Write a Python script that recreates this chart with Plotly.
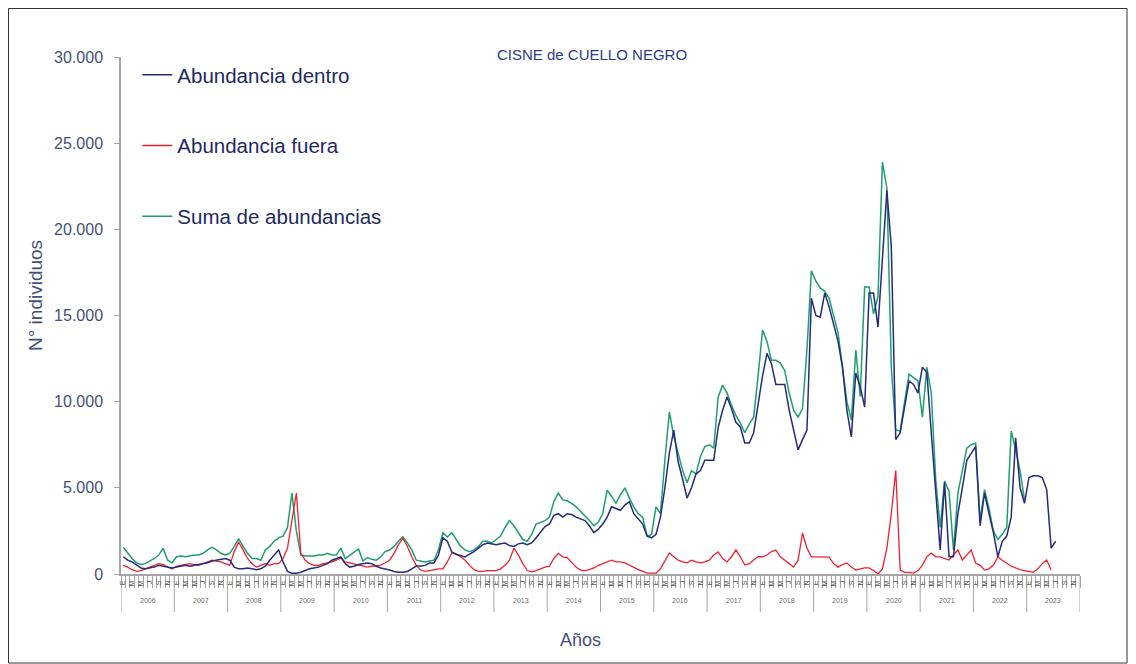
import plotly.graph_objects as go

years = list(range(2006, 2024))
month_letters = ["E", "F", "M", "A", "M", "J", "J", "A", "S", "O", "N", "D"]

# Monthly values from Jan 2006
dentro = [
    1000, 800, 700, 500, 350, 300, 350, 400, 500, 450, 400, 350,          # 2006
    400, 450, 500, 450, 500, 550, 600, 650, 750, 800, 850, 900,           # 2007
    800, 400, 300, 300, 350, 300, 250, 300, 450, 800, 1100, 1390,         # 2008
    700, 150, 50, 50, 100, 200, 300, 350, 400, 500, 600, 800,             # 2009
    900, 990, 600, 400, 450, 550, 600, 640, 600, 450, 350, 300,           # 2010
    230, 150, 100, 100, 150, 300, 460, 460, 500, 640, 640, 1100,          # 2011
    2100, 1900, 1280, 1150, 1050, 990, 1150, 1300, 1500, 1700, 1800, 1750,  # 2012
    1700, 1750, 1800, 1650, 1600, 1750, 1800, 1700, 1800, 2100, 2400, 2750,  # 2013
    2900, 3400, 3500, 3300, 3500, 3450, 3300, 3200, 3100, 2800, 2400, 2600,  # 2014
    2900, 3300, 3900, 3800, 3700, 4000, 4200, 3500, 3200, 2900, 2200, 2100,  # 2015
    2300, 3300, 5000, 7000, 8350, 6500, 5500, 4400, 5000, 5800, 6000, 6600,  # 2016
    6600, 6600, 8500, 9500, 10270, 9600, 8800, 8530, 7600, 7600, 8200, 10000,  # 2017
    11500, 12800, 12200, 11000, 11000, 11000, 9500, 8300, 7200, 7800, 8350, 16000,  # 2018
    15000, 14900, 16300, 15500, 14500, 13500, 12000, 9500, 7950, 11660, 10850, 9690,  # 2019
    16300, 16300, 14330, 18000, 22270, 19000, 7800, 8200, 9700, 11200, 11000, 10500,  # 2020
    12000, 11700, 8200, 5000, 1400, 5300, 1000, 1000, 3500, 5000, 6600, 7000,  # 2021
    7400, 2800, 4700, 3500, 2400, 1000, 1900, 2200, 3300, 7900, 5000, 4100,  # 2022
    5600, 5700, 5700, 5600, 4900, 1500, 1900,                              # 2023
]

fuera = [
    500, 400, 250, 150, 200, 300, 400, 500, 600, 550, 400, 300,
    450, 500, 550, 600, 550, 500, 600, 700, 800, 750, 700, 600,
    500, 1300, 1850, 1400, 900, 600, 400, 500, 600, 500, 600, 600,
    900, 1500, 3000, 4700, 1200, 800, 600, 500, 500, 600, 650, 700,
    800, 930, 700, 640, 600, 550, 450, 400, 450, 500, 520, 650,
    800, 1200, 1700, 2080, 1600, 990, 500, 230, 150, 200, 250, 300,
    300, 700, 1220, 1150, 1000, 800, 500, 250, 150, 150, 200, 200,
    200, 300, 500, 800, 1500, 1100, 600, 200, 120, 200, 300, 400,
    450, 900, 1200, 1000, 950, 650, 400, 230, 200, 250, 350, 500,
    600, 700, 800, 700, 700, 640, 500, 400, 250, 150, 50, 50,
    50, 300, 800, 1220, 1000, 800, 700, 650, 800, 700, 650, 700,
    800, 1100, 1280, 900, 700, 1000, 1390, 1000, 520, 600, 810, 1000,
    1000, 1100, 1300, 1390, 1000, 810, 600, 400, 800, 2380, 1500, 990,
    990, 990, 990, 980, 600, 400, 550, 640, 400, 230, 300, 350,
    350, 200, 0, 300, 1500, 3500, 6000, 230, 100, 100, 50, 200,
    500, 1000, 1220, 1000, 990, 900, 810, 1100, 1390, 810, 1100, 1390,
    640, 500, 230, 300, 520, 990, 800, 640, 450, 350, 250, 200,
    150, 100, 300, 600, 810, 230,
]

suma = [
    1550, 1200, 900, 650, 550, 600, 750, 900, 1100, 1500, 800, 650,
    1000, 1050, 1000, 1050, 1100, 1100, 1200, 1400, 1550, 1400, 1200, 1100,
    1200, 1600, 2050, 1600, 1200, 900, 900, 800, 1400, 1600, 1900, 2100,
    2200, 2700, 4700, 2500, 1100, 1050, 1050, 1050, 1100, 1100, 1200, 1100,
    1100, 1500, 900, 1100, 1300, 1450, 750, 950, 850, 800, 1000, 1300,
    1390, 1600, 1900, 2150, 1800, 1400, 800, 750, 700, 750, 800, 1400,
    2400, 2150, 2400, 2000, 1600, 1400, 1300, 1400, 1600, 1900, 1900, 1800,
    2000, 2200, 2700, 3100, 2800, 2400, 2000, 1900, 2300, 2900, 3000, 3100,
    3300, 4200, 4700, 4300, 4250, 4100, 3900, 3650, 3400, 3100, 2800, 3000,
    3500, 4870, 4500, 4100, 4600, 5000, 4400, 3900, 3500, 3300, 2200, 2300,
    3900, 3500, 6600, 9400, 8000, 7000, 6000, 5300, 6000, 5800, 6800, 7400,
    7500, 7300, 10270, 10960, 10500, 9800, 9200, 8760, 8200, 8700, 9100, 11500,
    14150, 13500, 12400, 12400, 12240, 11800, 10500, 9500, 9100, 9600, 13000, 17600,
    17000, 16600, 16400, 16000, 15000, 14000, 12000, 10000, 8930, 13000, 10300, 16650,
    16650, 15100, 16100, 23900, 22400, 12000, 8350, 8300, 10000, 11600, 11400, 11200,
    9100, 12000, 10500, 5500, 2700, 5400, 4800, 1400, 4700, 6000, 7300, 7500,
    7600, 3100, 4900, 3800, 2500, 2000, 2300, 2700, 8300, 7200, 6000, 4300,
]

n_months = len(years) * 12
x_d = list(range(len(dentro)))
x_f = list(range(len(fuera)))
x_s = list(range(len(suma)))

BLUE = "#262b7d"
RED = "#f0212e"
GREEN = "#1f9e6e"
TXT = "#44507a"
GRID = "#a6a6a6"

# page is shown with an 8px body margin: figure px = page px - 8
L, T = 113, 49
PW, PH = 959, 517
R = 1136 - L - PW
B = 664 - T - PH


def px(page_x):
    return (page_x - 8 - L) / PW


def py(page_y):
    return (T + PH - (page_y - 8)) / PH


fig = go.Figure()
fig.add_trace(go.Scatter(x=x_s, y=suma, mode="lines", name="Suma de abundancias",
                         line=dict(color=GREEN, width=1.5), legendrank=3, legendgroup="s"))
fig.add_trace(go.Scatter(x=x_f, y=fuera, mode="lines", name="Abundancia fuera",
                         line=dict(color=RED, width=1.3), legendrank=2, legendgroup="f"))
fig.add_trace(go.Scatter(x=x_d, y=dentro, mode="lines", name="Abundancia dentro",
                         line=dict(color=BLUE, width=1.5), legendrank=1, legendgroup="d"))

tickvals = list(range(n_months))
ticktext = [month_letters[m % 12] if m % 2 == 0 else "" for m in tickvals]

shapes = []
annotations = []
for k, yr in enumerate(years):
    annotations.append(dict(x=12 * k + 5.5, y=py(600), xref="x", yref="paper",
                            text=str(yr), showarrow=False, yanchor="middle",
                            font=dict(size=7, color="#6b6b6b")))
for k in range(len(years) + 1):
    shapes.append(dict(type="line", xref="x", yref="paper",
                       x0=12 * k - 0.5, x1=12 * k - 0.5, y0=0, y1=py(612),
                       line=dict(color=GRID, width=1)))

# outer border
shapes.append(dict(type="rect", xref="paper", yref="paper",
                   x0=px(8.5), x1=px(1127), y0=py(663), y1=py(8.5),
                   line=dict(color="#333333", width=1)))

annotations.append(dict(x=px(35), y=py(296), xref="paper", yref="paper", text="N° individuos",
                        textangle=-90, showarrow=False, xanchor="center", yanchor="middle",
                        font=dict(size=19, color=TXT)))
annotations.append(dict(x=px(580), y=py(640), xref="paper", yref="paper", text="Años",
                        showarrow=False, xanchor="center", yanchor="middle",
                        font=dict(size=18, color=TXT)))
annotations.append(dict(x=px(592), y=py(55), xref="paper", yref="paper",
                        text="CISNE de CUELLO NEGRO", showarrow=False,
                        xanchor="center", yanchor="middle",
                        font=dict(size=15, color="#2e3a8c")))

fig.update_layout(
    width=1136, height=664,
    margin=dict(l=L, r=R, t=T, b=B, autoexpand=False),
    paper_bgcolor="white", plot_bgcolor="white",
    font=dict(family="Liberation Sans, Arial, sans-serif", color=TXT),
    separators=",.",
    showlegend=True,
    legend=dict(x=px(145) - 0.008, y=py(55), xanchor="left", yanchor="top",
                bgcolor="rgba(0,0,0,0)", font=dict(size=20.5, color="#1f2a60"),
                tracegroupgap=41, traceorder="grouped"),
    shapes=shapes, annotations=annotations,
)
fig.update_xaxes(range=[-0.5, n_months - 0.5], showgrid=False, zeroline=False,
                 showline=True, linecolor=GRID, linewidth=1.5,
                 tickmode="array", tickvals=tickvals, ticktext=ticktext,
                 tickangle=-90, tickfont=dict(size=7, color="#555555"),
                 ticks="", ticklabelstandoff=2,
                 minor=dict(tick0=-0.5, dtick=1, ticks="outside", ticklen=12,
                            tickcolor=GRID, tickwidth=1, showgrid=False))
fig.update_yaxes(range=[0, 30000], dtick=5000, tickformat=",d", showgrid=False,
                 zeroline=False, showline=True, linecolor=GRID, linewidth=1.5,
                 ticks="outside", ticklen=5, tickcolor=GRID,
                 tickfont=dict(size=16, color=TXT), ticklabelstandoff=8)

fig.write_html("out.html")
